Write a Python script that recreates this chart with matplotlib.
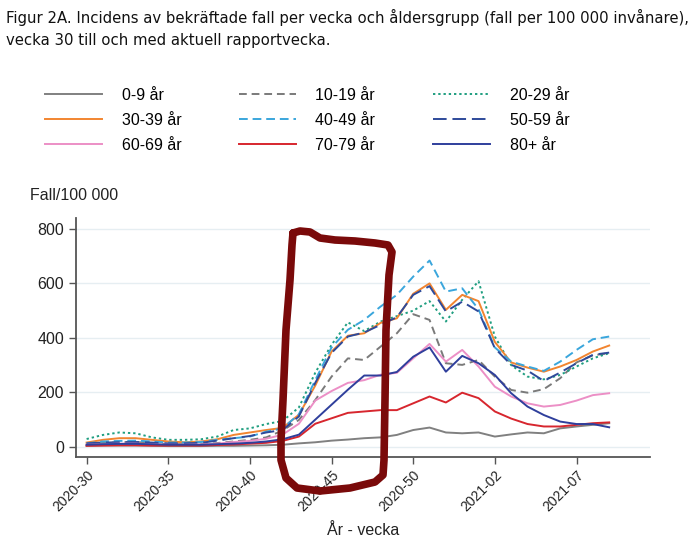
import numpy as np
import matplotlib
matplotlib.use("Agg")
import matplotlib.pyplot as plt
from matplotlib.lines import Line2D

# veckor 2020-30 .. 2020-53, 2021-01 .. 2021-09
weeks = ["2020-%02d" % w for w in range(30, 54)] + ["2021-%02d" % w for w in range(1, 10)]
tick_labels = ["2020-30", "2020-35", "2020-40", "2020-45", "2020-50", "2021-02", "2021-07"]

age_0_9 = [4, 5, 5, 5, 4, 3, 3, 3, 4, 4, 5, 6, 8, 13, 17, 23, 27, 32, 35, 44, 62, 71, 53, 50, 53, 38, 46, 53, 50, 68, 75, 81, 87]
age_10_19 = [11, 15, 17, 18, 14, 10, 10, 10, 14, 20, 26, 35, 60, 99, 172, 258, 325, 319, 368, 417, 487, 466, 307, 301, 319, 258, 209, 199, 212, 252, 310, 336, 344]
age_20_29 = [29, 44, 53, 50, 35, 26, 26, 28, 38, 62, 68, 84, 95, 145, 272, 375, 457, 425, 460, 480, 500, 535, 460, 540, 608, 405, 300, 258, 248, 264, 295, 325, 344]
age_30_39 = [16, 26, 32, 32, 26, 20, 17, 20, 28, 44, 53, 62, 70, 118, 225, 350, 408, 417, 455, 472, 562, 600, 503, 558, 535, 385, 310, 291, 276, 295, 319, 350, 372]
age_40_49 = [13, 20, 22, 23, 20, 16, 16, 18, 26, 32, 38, 56, 68, 120, 245, 365, 430, 466, 515, 558, 625, 684, 570, 582, 505, 365, 313, 295, 279, 313, 356, 395, 405]
age_50_59 = [13, 16, 17, 18, 16, 13, 13, 15, 23, 32, 40, 53, 62, 112, 235, 345, 405, 420, 448, 476, 558, 590, 497, 533, 497, 362, 301, 280, 242, 273, 307, 338, 346]
age_60_69 = [8, 10, 12, 12, 10, 8, 8, 9, 12, 18, 22, 30, 45, 85, 170, 205, 235, 245, 265, 272, 325, 378, 313, 356, 295, 221, 185, 160, 148, 154, 170, 190, 197]
age_70_79 = [4, 5, 6, 6, 5, 5, 5, 5, 7, 9, 12, 15, 22, 38, 85, 105, 125, 130, 135, 135, 160, 185, 163, 199, 179, 130, 104, 84, 75, 75, 81, 87, 90]
age_80 = [8, 10, 11, 11, 10, 8, 8, 8, 10, 12, 15, 20, 28, 45, 100, 155, 210, 262, 262, 275, 331, 365, 276, 334, 307, 264, 197, 148, 117, 93, 84, 84, 72]

series = [
    ("0-9 år", age_0_9, "#808080", "-"),
    ("10-19 år", age_10_19, "#7a7a7a", (0, (4, 2.5))),
    ("20-29 år", age_20_29, "#1f9e80", (0, (1.2, 1.5))),
    ("30-39 år", age_30_39, "#f28530", "-"),
    ("40-49 år", age_40_49, "#3aa6dc", (0, (4.5, 2.5))),
    ("50-59 år", age_50_59, "#2e4a9a", (0, (7, 3))),
    ("60-69 år", age_60_69, "#ec8fc6", "-"),
    ("70-79 år", age_70_79, "#d7262e", "-"),
    ("80+ år", age_80, "#2f3f9c", "-"),
]

# handritad ram (pixlar i bilden)
box_px = [(293, 233), (300, 231), (310, 232), (320, 238), (335, 240), (355, 241), (375, 243),
          (388, 245), (392, 252), (389, 275), (386, 330), (385, 400), (384, 460), (383, 475),
          (375, 482), (350, 488), (320, 491), (297, 488), (286, 478), (281, 460), (281, 440),
          (283, 400), (286, 330), (290, 280), (292, 245), (293, 233)]

W, H = 700, 539
fig = plt.figure(figsize=(W / 100, H / 100), dpi=100)
plt.rcParams['font.family'] = ['Liberation Sans', 'DejaVu Sans']

ax = fig.add_axes([76 / W, 1 - 457 / H, (650 - 76) / W, (457 - 218) / H])
x = np.arange(len(weeks))
for label, vals, col, ls in series:
    ax.plot(x, vals, color=col, linestyle=ls, linewidth=1.4, label=label)

ax.set_xlim(-0.65, 34.5)
ax.set_ylim(-37, 840)
ax.set_yticks([0, 200, 400, 600, 800])
ax.set_xticks([weeks.index(t) for t in tick_labels])
ax.set_xticklabels(tick_labels, rotation=45, ha='right', rotation_mode='anchor', fontsize=10, color='#222222')
ax.tick_params(axis='y', labelsize=11.5, length=5, width=1, color='#555555', labelcolor='#222222')
ax.tick_params(axis='x', length=5, width=1, color='#555555', pad=3)
ax.grid(axis='y', color='#e6eef2', linewidth=1)
ax.set_axisbelow(True)
for s in ['top', 'right']:
    ax.spines[s].set_visible(False)
for s in ['left', 'bottom']:
    ax.spines[s].set_color('#555555')
    ax.spines[s].set_linewidth(1.3)
ax.set_xlabel("År - vecka", fontsize=11.5, color='#222222', labelpad=6)

fig.text(30 / W, 1 - 195 / H, "Fall/100 000", fontsize=11.5, va='center', ha='left', color='#222222')

fig.text(6 / W, 1 - 17 / H, "Figur 2A. Incidens av bekräftade fall per vecka och åldersgrupp (fall per 100 000 invånare),",
         fontsize=10.7, family='DejaVu Sans', va='center', ha='left', color='#111111')
fig.text(6 / W, 1 - 40 / H, "vecka 30 till och med aktuell rapportvecka.",
         fontsize=10.7, family='DejaVu Sans', va='center', ha='left', color='#111111')

# legenden fylls kolumnvis, så ordna om för radvis läsning
handles, labels = ax.get_legend_handles_labels()
order = [0, 3, 6, 1, 4, 7, 2, 5, 8]
fig.legend([handles[i] for i in order], [labels[i] for i in order], ncol=3, loc='upper left',
           bbox_to_anchor=(45 / W, 1 - 88 / H),
           frameon=False, fontsize=11.5, handlelength=3.6, handletextpad=1.2,
           columnspacing=3.6, labelspacing=0.62, borderpad=0, borderaxespad=0)

bx = [p[0] / W for p in box_px]
by = [1 - p[1] / H for p in box_px]
fig.add_artist(Line2D(bx, by, transform=fig.transFigure, color='#7a0a0a', linewidth=5.5,
                      solid_joinstyle='round', solid_capstyle='round'))

fig.savefig("out.png", dpi=100)
